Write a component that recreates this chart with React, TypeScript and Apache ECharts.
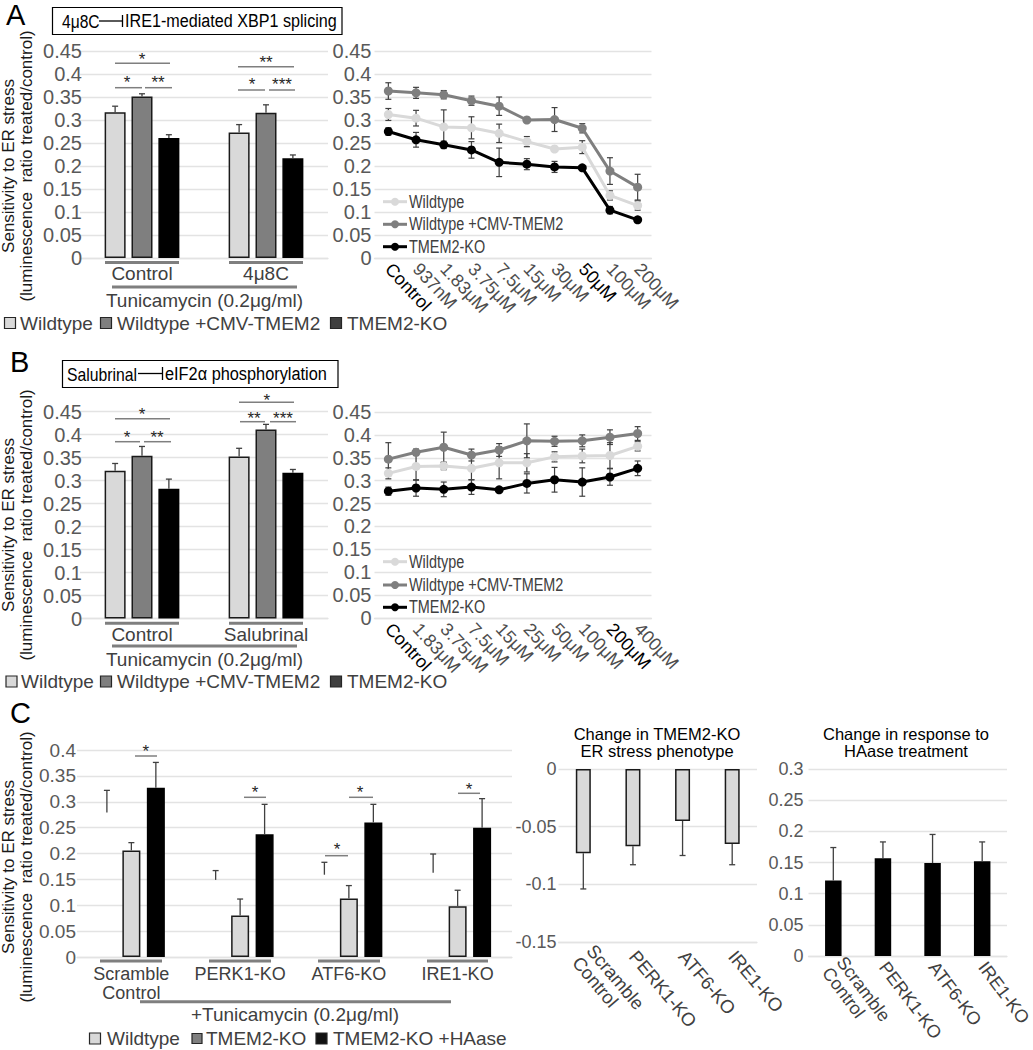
import React, { useEffect, useRef } from 'react';
import * as echarts from 'echarts';

const FONT = '"Liberation Sans", Arial, Helvetica, sans-serif';
const C_WT = '#d9d9d9';
const C_CMV = '#7f7f7f';
const C_KO = '#000000';
const GRID_C = '#e3e3e3';

// ---------- Panel A: bar chart ----------
const aBarCats = ['Control', '4μ8C'];
const aBarWT = [0.317, 0.273];
const aBarWTErr = [0.013, 0.017];
const aBarCMV = [0.351, 0.316];
const aBarCMVErr = [0.006, 0.017];
const aBarKO = [0.261, 0.217];
const aBarKOErr = [0.007, 0.007];

// ---------- Panel A: line chart ----------
const aLineCats = ['Control', '937nM', '1.83μM', '3.75μM', '7.5μM', '15μM', '30μM', '50μM', '100μM', '200μM'];
const aLineBlack = ['Control', '50μM'];
const aWT = [0.312, 0.304, 0.285, 0.283, 0.271, 0.253, 0.237, 0.241, 0.136, 0.114];
const aWTErr = [0.013, 0.017, 0.037, 0.024, 0.02, 0.011, 0.004, 0.014, 0.01, 0.01];
const aCMV = [0.363, 0.359, 0.355, 0.342, 0.33, 0.3, 0.301, 0.282, 0.189, 0.154];
const aCMVErr = [0.018, 0.012, 0.009, 0.01, 0.02, 0.004, 0.026, 0.01, 0.029, 0.028];
const aKO = [0.275, 0.257, 0.246, 0.235, 0.208, 0.204, 0.198, 0.196, 0.104, 0.083];
const aKOErr = [0.008, 0.016, 0.008, 0.018, 0.031, 0.012, 0.012, 0.003, 0.008, 0.006];

// ---------- Panel B: bar chart ----------
const bBarCats = ['Control', 'Salubrinal'];
const bBarWT = [0.321, 0.352];
const bBarWTErr = [0.016, 0.018];
const bBarCMV = [0.354, 0.411];
const bBarCMVErr = [0.02, 0.011];
const bBarKO = [0.282, 0.317];
const bBarKOErr = [0.021, 0.007];

// ---------- Panel B: line chart ----------
const bLineCats = ['Control', '1.83μM', '3.75μM', '7.5μM', '15μM', '25μM', '50μM', '100μM', '200μM', '400μM'];
const bLineBlack = ['Control', '200μM'];
const bWT = [0.316, 0.331, 0.332, 0.327, 0.339, 0.339, 0.352, 0.354, 0.355, 0.375];
const bWTErr = [0.012, 0.03, 0.008, 0.025, 0.035, 0.02, 0.011, 0.015, 0.028, 0.01];
const bCMV = [0.347, 0.362, 0.373, 0.356, 0.367, 0.387, 0.386, 0.387, 0.395, 0.403];
const bCMVErr = [0.036, 0.007, 0.033, 0.013, 0.014, 0.037, 0.011, 0.013, 0.016, 0.015];
const bKO = [0.277, 0.284, 0.281, 0.286, 0.28, 0.294, 0.302, 0.297, 0.308, 0.327];
const bKOErr = [0.009, 0.018, 0.016, 0.016, 0.004, 0.021, 0.027, 0.031, 0.018, 0.016];

// ---------- Panel C ----------
const cCats = ['Scramble\nControl', 'PERK1-KO', 'ATF6-KO', 'IRE1-KO'];
const cWT = [0.279, 0.149, 0.159, 0.163];
const cWTErr = [0.043, 0.018, 0.024, 0.036];
const cKO = [0.206, 0.08, 0.113, 0.098];
const cKOErr = [0.015, 0.032, 0.025, 0.031];
const cHA = [0.327, 0.237, 0.26, 0.25];
const cHAErr = [0.049, 0.058, 0.035, 0.056];
const cDiff = [-0.073, -0.067, -0.045, -0.065];
const cDiffErr = [0.031, 0.016, 0.03, 0.018];
const cResp = [0.121, 0.157, 0.149, 0.152];
const cRespErr = [0.053, 0.026, 0.046, 0.031];

const A_BW = 21;
const A_GAP = 0.28;
const A_STEP = A_BW * (1 + A_GAP);
const C_BW = 18;
const C_GAP = 0.36;
const C_STEP = C_BW * (1 + C_GAP);

function errSeries(xi: number, pts: number[][], offset: number, cap: number, color: string, lw: number, z: number) {
  return {
    type: 'custom',
    xAxisIndex: xi,
    yAxisIndex: xi,
    z,
    silent: true,
    clip: false,
    data: pts,
    encode: { x: 0, y: 1 },
    renderItem: (_p: any, api: any) => {
      const c = api.value(0);
      const v = api.value(1);
      const up = api.value(2);
      const dn = api.value(3);
      const p0 = api.coord([c, v]);
      const p1 = api.coord([c, v + up]);
      const p2 = api.coord([c, v - dn]);
      const x = p0[0] + offset;
      const st = { stroke: color, lineWidth: lw };
      const ch: any[] = [{ type: 'line', shape: { x1: x, y1: p1[1], x2: x, y2: p2[1] }, style: st }];
      if (up > 0) ch.push({ type: 'line', shape: { x1: x - cap, y1: p1[1], x2: x + cap, y2: p1[1] }, style: st });
      if (dn > 0) ch.push({ type: 'line', shape: { x1: x - cap, y1: p2[1], x2: x + cap, y2: p2[1] }, style: st });
      return { type: 'group', children: ch };
    },
  };
}

const upPts = (v: number[], e: number[]) => v.map((d, i) => [i, d, e[i], 0]);
const dnPts = (v: number[], e: number[]) => v.map((d, i) => [i, d, 0, e[i]]);
const bothPts = (v: number[], e: number[]) => v.map((d, i) => [i, d, e[i], e[i]]);

function bar(xi: number, data: number[], color: string, bw: number, gap: string, border = '#1a1a1a', bwid = 1.5) {
  return {
    type: 'bar',
    xAxisIndex: xi,
    yAxisIndex: xi,
    data,
    barWidth: bw,
    barGap: gap,
    z: 2,
    silent: true,
    itemStyle: { color, borderColor: border, borderWidth: bwid },
  };
}

function line(xi: number, data: number[], color: string) {
  return {
    type: 'line',
    xAxisIndex: xi,
    yAxisIndex: xi,
    data,
    z: 4,
    silent: true,
    symbol: 'circle',
    symbolSize: 9,
    lineStyle: { width: 3, color },
    itemStyle: { color },
  };
}

function yAx(gi: number, min: number, max: number, fs: number, margin: number) {
  return {
    type: 'value',
    gridIndex: gi,
    min,
    max,
    interval: 0.05,
    axisLine: { show: false },
    axisTick: { show: false },
    axisLabel: { fontSize: fs, color: '#595959', margin, fontFamily: FONT },
    splitLine: { show: true, lineStyle: { color: GRID_C, width: 1.3 } },
  };
}

function xCat(gi: number, data: any[], label: any, extra: any = {}) {
  return {
    type: 'category',
    gridIndex: gi,
    data,
    axisTick: { show: false },
    axisLine: { show: true, onZero: false, lineStyle: { color: GRID_C, width: 1.3 } },
    axisLabel: { fontFamily: FONT, interval: 0, ...label },
    ...extra,
  };
}

const catData = (cats: string[], black: string[]) =>
  cats.map((c) => (black.includes(c) ? { value: c, textStyle: { color: '#000' } } : c));

function buildGraphics() {
  const G: any[] = [];
  const T = (x: number, y: number, text: string, o: any = {}) => {
    const align = o.align || 'left';
    const v = o.v || 'middle';
    G.push({
      type: 'text',
      x,
      y,
      silent: true,
      z: 100,
      scaleX: o.scaleX ?? 1,
      rotation: o.rotation ?? 0,
      style: {
        text,
        fontSize: o.size || 19,
        fontFamily: FONT,
        fill: o.fill || '#404040',
        align,
        verticalAlign: v,
        textAlign: align,
        textVerticalAlign: v,
        lineHeight: o.lh,
      },
    });
  };
  const L = (x1: number, y1: number, x2: number, y2: number, color: string, w: number) =>
    G.push({ type: 'line', silent: true, z: 100, shape: { x1, y1, x2, y2 }, style: { stroke: color, lineWidth: w } });
  const R = (x: number, y: number, w: number, h: number, fill: string, stroke: string, lw: number) =>
    G.push({ type: 'rect', silent: true, z: 99, shape: { x, y, width: w, height: h }, style: { fill, stroke, lineWidth: lw } });
  const star = (x: number, y: number, s: string) => T(x, y + 4, s, { size: 17, align: 'center', fill: '#262626' });
  const SIG = '#7f7f7f';
  const yTitle = 'Sensitivity to ER stress\n(luminescence  ratio treated/control)';

  const barLegend = (y: number, xs: number[], tx: number[], names: string[], fills: string[], sizes: number[]) => {
    names.forEach((n, i) => {
      R(xs[i], y - sizes[i] / 2, sizes[i], sizes[i], fills[i], '#262626', 1.2);
      T(tx[i], y, n, { size: 19 });
    });
  };
  const lineLegend = (ys: number[]) => {
    const names = ['Wildtype', 'Wildtype +CMV-TMEM2', 'TMEM2-KO'];
    const cols = [C_WT, C_CMV, C_KO];
    ys.forEach((y, i) => {
      L(383, y, 407, y, cols[i], 3);
      G.push({ type: 'circle', silent: true, z: 100, shape: { cx: 395, cy: y, r: 4 }, style: { fill: cols[i] } });
      T(409, y, names[i], { size: 19, scaleX: 0.76 });
    });
  };

  // ----- Panel A -----
  T(6, 15, 'A', { size: 29, fill: '#000' });
  R(52.5, 7.5, 289.5, 27, '#fff', '#000', 1.2);
  T(62, 21, '4μ8C', { size: 19, scaleX: 0.82, fill: '#000' });
  L(99, 21, 122.5, 21, '#000', 1.3);
  L(122.5, 15, 122.5, 27, '#000', 1.3);
  T(125, 21, 'IRE1-mediated XBP1 splicing', { size: 19, scaleX: 0.85, fill: '#000' });
  T(17.5, 166, yTitle, { size: 17, align: 'center', rotation: Math.PI / 2, lh: 17.5, fill: '#1a1a1a' });
  L(105, 262.5, 179, 262.5, '#7f7f7f', 3);
  L(229, 262.5, 303, 262.5, '#7f7f7f', 3);
  L(112, 287, 297, 287, '#7f7f7f', 3);
  T(204.5, 300, 'Tunicamycin (0.2μg/ml)', { size: 19, align: 'center' });
  barLegend(323, [4.5, 100.5, 330.5], [20, 117, 347], ['Wildtype', 'Wildtype +CMV-TMEM2', 'TMEM2-KO'], [C_WT, C_CMV, '#3f3f3f'], [11, 11, 11]);
  L(115, 63.3, 170, 63.3, SIG, 1.5);
  L(115, 87.7, 142, 87.7, SIG, 1.5);
  L(145, 87.7, 172, 87.7, SIG, 1.5);
  L(238, 66.7, 294, 66.7, SIG, 1.5);
  L(238, 90, 265, 90, SIG, 1.5);
  L(269, 90, 295, 90, SIG, 1.5);
  star(142, 55.5, '*');
  star(127, 78.3, '*');
  star(158, 78.3, '**');
  star(266, 58.3, '**');
  star(252, 80.7, '*');
  star(282, 80.7, '***');
  lineLegend([201.7, 224.3, 246.7]);

  // ----- Panel B -----
  T(10, 362, 'B', { size: 29, fill: '#000' });
  R(62.5, 360.5, 275.5, 27, '#fff', '#000', 1.2);
  T(67, 374, 'Salubrinal', { size: 19, scaleX: 0.83, fill: '#000' });
  L(138, 373.5, 162, 373.5, '#000', 1.3);
  L(162.5, 367, 162.5, 380, '#000', 1.3);
  T(165, 374, 'eIF2α phosphorylation', { size: 19, scaleX: 0.86, fill: '#000' });
  T(17.5, 525, yTitle, { size: 17, align: 'center', rotation: Math.PI / 2, lh: 17.5, fill: '#1a1a1a' });
  L(105, 623.3, 179, 623.3, '#7f7f7f', 3);
  L(229, 623.3, 303, 623.3, '#7f7f7f', 3);
  L(112, 646, 297, 646, '#7f7f7f', 3);
  T(204.5, 659.3, 'Tunicamycin (0.2μg/ml)', { size: 19, align: 'center' });
  barLegend(681.5, [6, 100.5, 330.5], [21, 117, 347], ['Wildtype', 'Wildtype +CMV-TMEM2', 'TMEM2-KO'], [C_WT, C_CMV, '#3f3f3f'], [11, 11, 11]);
  L(115, 418.7, 170, 418.7, SIG, 1.5);
  L(115, 441.7, 140, 441.7, SIG, 1.5);
  L(144, 441.7, 171, 441.7, SIG, 1.5);
  L(239, 402.3, 294, 402.3, SIG, 1.5);
  L(240, 421.7, 265, 421.7, SIG, 1.5);
  L(270, 421.7, 296, 421.7, SIG, 1.5);
  star(142, 410, '*');
  star(127, 433.3, '*');
  star(157, 433.3, '**');
  star(266.7, 396, '*');
  star(254, 414, '**');
  star(283, 414, '***');
  lineLegend([561.7, 585, 607.3]);

  // ----- Panel C -----
  T(10, 713, 'C', { size: 29, fill: '#000' });
  T(17.5, 867, yTitle, { size: 17, align: 'center', rotation: Math.PI / 2, lh: 17.5, fill: '#1a1a1a' });
  [[100, 162], [209, 271], [318, 380], [427, 488]].forEach(([a, b]) => L(a, 961, b, 961, '#7f7f7f', 3));
  L(140, 1001.7, 451, 1001.7, '#7f7f7f', 3);
  T(295, 1014, '+Tunicamycin (0.2μg/ml)', { size: 19, align: 'center' });
  barLegend(1038.5, [89.5, 192, 316], [107, 206, 333], ['Wildtype', 'TMEM2-KO', 'TMEM2-KO +HAase'], [C_WT, C_CMV, '#111111'], [11, 10, 11]);
  L(135, 756, 157, 756, SIG, 1.5);
  L(244, 797.3, 266, 797.3, SIG, 1.5);
  L(349, 797.3, 373, 797.3, SIG, 1.5);
  L(325, 855.7, 348, 855.7, SIG, 1.5);
  L(458, 793.3, 480, 793.3, SIG, 1.5);
  star(145.7, 747.7, '*');
  star(255, 788, '*');
  star(360, 788, '*');
  star(337, 845.7, '*');
  star(469, 785, '*');
  T(657, 734, 'Change in TMEM2-KO', { size: 16.5, align: 'center', fill: '#000' });
  T(657, 751, 'ER stress phenotype', { size: 16.5, align: 'center', fill: '#000' });
  T(906, 734, 'Change in response to', { size: 16.5, align: 'center', fill: '#000' });
  T(906, 751, 'HAase treatment', { size: 16.5, align: 'center', fill: '#000' });
  return G;
}

export default function App() {
  const ref = useRef<HTMLDivElement>(null);
  useEffect(() => {
    if (!ref.current) return;
    const chart = echarts.init(ref.current, undefined, { renderer: 'svg' });
    const grids = [
      { left: 80, top: 51, width: 248, height: 207 },
      { left: 374.5, top: 51, width: 277, height: 207 },
      { left: 80, top: 411.5, width: 248, height: 207 },
      { left: 374.5, top: 412, width: 277, height: 206 },
      { left: 77, top: 750, width: 435, height: 207 },
      { left: 558.5, top: 769, width: 198.5, height: 173 },
      { left: 808.5, top: 769, width: 198.5, height: 187 },
    ].map((g) => ({ ...g, containLabel: false, outerBoundsMode: 'none' }));

    const barLbl = { fontSize: 19, color: '#404040', margin: 6, lineHeight: 19 };
    const lineLbl = { fontSize: 18, color: '#4d4d4d', margin: 8, rotate: -47 };
    const cLbl = { fontSize: 18, color: '#404040', margin: 7, lineHeight: 19 };
    const cRotLbl = { fontSize: 18.5, color: '#404040', margin: 11, rotate: -50, lineHeight: 18.5 };

    const option: any = {
      animation: false,
      backgroundColor: '#ffffff',
      textStyle: { fontFamily: FONT },
      grid: grids,
      xAxis: [
        xCat(0, aBarCats, barLbl),
        xCat(1, catData(aLineCats, aLineBlack), lineLbl),
        xCat(2, bBarCats, barLbl),
        xCat(3, catData(bLineCats, bLineBlack), lineLbl),
        xCat(4, cCats, cLbl),
        xCat(5, cCats, cRotLbl, { position: 'bottom' }),
        xCat(6, cCats, { ...cRotLbl, fontSize: 18, lineHeight: 18, rotate: -53, margin: 8 }),
      ],
      yAxis: [
        yAx(0, 0, 0.45, 20, -2),
        yAx(1, 0, 0.45, 20, 3),
        yAx(2, 0, 0.45, 20, -2),
        yAx(3, 0, 0.45, 20, 3),
        yAx(4, 0, 0.4, 19, 1),
        yAx(5, -0.15, 0, 18, 2),
        yAx(6, 0, 0.3, 18, 5),
      ],
      series: [
        // A bars
        bar(0, aBarWT, C_WT, A_BW, `${A_GAP * 100}%`),
        bar(0, aBarCMV, C_CMV, A_BW, `${A_GAP * 100}%`),
        bar(0, aBarKO, C_KO, A_BW, `${A_GAP * 100}%`, '#000'),
        errSeries(0, upPts(aBarWT, aBarWTErr), -A_STEP, 3, '#404040', 1.3, 5),
        errSeries(0, upPts(aBarCMV, aBarCMVErr), 0, 3, '#404040', 1.3, 5),
        errSeries(0, upPts(aBarKO, aBarKOErr), A_STEP, 3, '#404040', 1.3, 5),
        // A lines
        errSeries(1, bothPts(aWT, aWTErr), 0, 3, '#404040', 1.2, 3),
        errSeries(1, bothPts(aCMV, aCMVErr), 0, 3, '#404040', 1.2, 3),
        errSeries(1, bothPts(aKO, aKOErr), 0, 3, '#404040', 1.2, 3),
        line(1, aWT, C_WT),
        line(1, aCMV, C_CMV),
        line(1, aKO, C_KO),
        // B bars
        bar(2, bBarWT, C_WT, A_BW, `${A_GAP * 100}%`),
        bar(2, bBarCMV, C_CMV, A_BW, `${A_GAP * 100}%`),
        bar(2, bBarKO, C_KO, A_BW, `${A_GAP * 100}%`, '#000'),
        errSeries(2, upPts(bBarWT, bBarWTErr), -A_STEP, 3, '#404040', 1.3, 5),
        errSeries(2, upPts(bBarCMV, bBarCMVErr), 0, 3, '#404040', 1.3, 5),
        errSeries(2, upPts(bBarKO, bBarKOErr), A_STEP, 3, '#404040', 1.3, 5),
        // B lines
        errSeries(3, bothPts(bWT, bWTErr), 0, 3, '#404040', 1.2, 3),
        errSeries(3, bothPts(bCMV, bCMVErr), 0, 3, '#404040', 1.2, 3),
        errSeries(3, bothPts(bKO, bKOErr), 0, 3, '#404040', 1.2, 3),
        line(3, bWT, C_WT),
        line(3, bCMV, C_CMV),
        line(3, bKO, C_KO),
        // C bars
        bar(4, cWT, 'rgba(0,0,0,0)', C_BW, `${C_GAP * 100}%`, 'rgba(0,0,0,0)', 0),
        bar(4, cKO, C_WT, C_BW, `${C_GAP * 100}%`),
        bar(4, cHA, '#000', C_BW, `${C_GAP * 100}%`, '#000'),
        errSeries(4, upPts(cWT, cWTErr), -C_STEP, 3, '#404040', 1.3, 5),
        errSeries(4, upPts(cKO, cKOErr), 0, 3, '#404040', 1.3, 5),
        errSeries(4, upPts(cHA, cHAErr), C_STEP, 3, '#404040', 1.3, 5),
        // C middle
        bar(5, cDiff, C_WT, 15, '30%'),
        errSeries(5, dnPts(cDiff, cDiffErr), 0, 3, '#404040', 1.3, 5),
        // C right
        bar(6, cResp, '#000', 16.5, '30%', '#000', 0),
        errSeries(6, upPts(cResp, cRespErr), 0, 3, '#404040', 1.3, 5),
      ],
      graphic: { elements: buildGraphics() },
    };
    chart.setOption(option);
    return () => chart.dispose();
  }, []);
  return (
    <div
      ref={ref}
      style={{ position: 'absolute', left: 0, top: 0, width: 1033, height: 1050, background: '#fff' }}
    />
  );
}
